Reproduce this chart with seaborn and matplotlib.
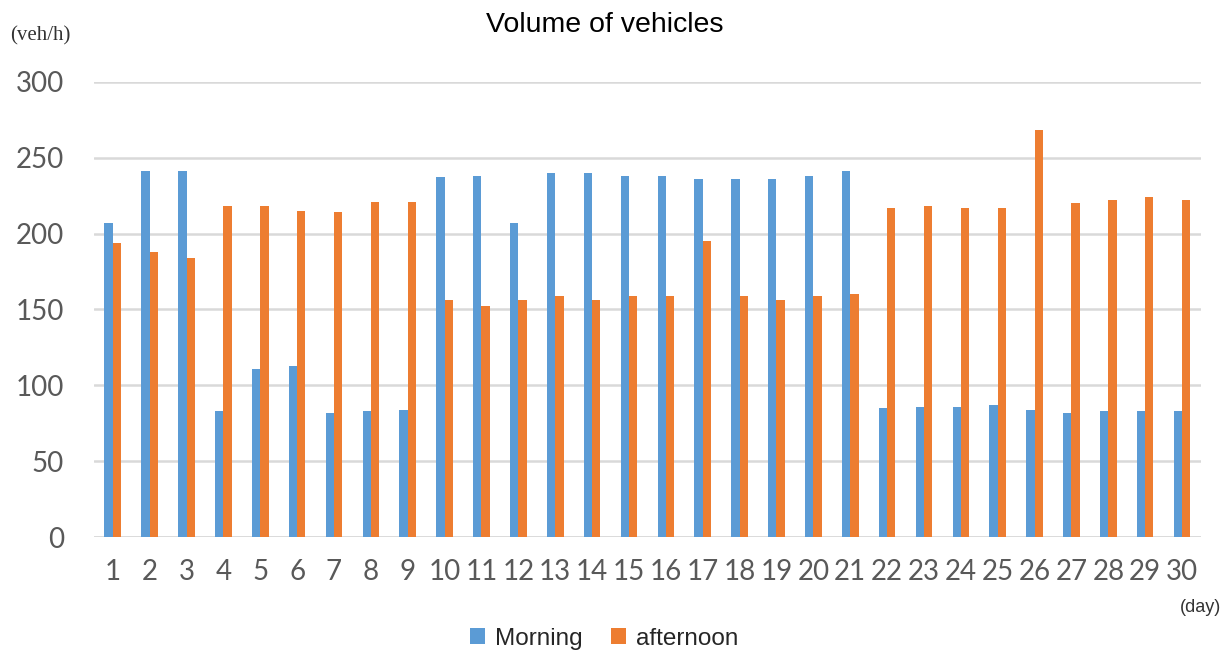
import matplotlib
matplotlib.use("Agg")
import matplotlib.pyplot as plt
import pandas as pd
import seaborn as sns

# datos
dias = list(range(1, 31))
manana = [207, 241, 241, 83, 111, 113, 82, 83, 84, 237,
          238, 207, 240, 240, 238, 238, 236, 236, 236, 238,
          241, 85, 86, 86, 87, 84, 82, 83, 83, 83]
tarde = [194, 188, 184, 218, 218, 215, 214, 221, 221, 156,
         152, 156, 159, 156, 159, 159, 195, 159, 156, 159,
         160, 217, 218, 217, 217, 268, 220, 222, 224, 222]
series = ["Morning", "afternoon"]
colores = ["#5B9BD5", "#ED7D31"]

df = pd.DataFrame({
    "day": [str(d) for d in dias] * 2,
    "value": manana + tarde,
    "serie": [series[0]] * len(dias) + [series[1]] * len(dias),
})

sns.set_style("white")
plt.rcParams["font.family"] = ["Liberation Sans", "DejaVu Sans"]
fig = plt.figure(figsize=(12.25, 6.55), dpi=100)
ax = fig.add_axes([0.077, 0.18, 0.903, 0.695])

sns.barplot(data=df, x="day", y="value", hue="serie", palette=colores,
            width=0.45, gap=0.0, ax=ax, saturation=1, edgecolor="none")

ax.set_ylim(0, 300)
ax.set_xlim(-0.5, 29.5)
ax.set_yticks(range(0, 301, 50))
ax.yaxis.grid(True, color="#D9D9D9", linewidth=1.8)
ax.set_axisbelow(True)
for s in ax.spines.values():
    s.set_visible(False)
ax.axhline(0, color="#D9D9D9", linewidth=1.8, zorder=0)
ax.tick_params(axis="both", length=0, labelsize=20, labelcolor="#595959")
ax.tick_params(axis="x", pad=16)
ax.tick_params(axis="y", pad=22)
for lab in ax.get_xticklabels() + ax.get_yticklabels():
    lab.set_family("Lato")
ax.set_xlabel("")
ax.set_ylabel("")

fig.text(0.494, 0.962, "Volume of vehicles", ha="center", va="center",
         fontsize=20.5, color="black")
fig.text(0.008, 0.946, "(veh/h)", ha="left", va="center",
         fontsize=15, family="Liberation Serif", color="#333333")
fig.text(0.997, 0.072, "(day)", ha="right", va="center",
         fontsize=13, color="#333333")

ax.legend(loc="center", bbox_to_anchor=(0.461, -0.223), ncol=2,
          frameon=False, fontsize=17.5, handlelength=0.6, handleheight=0.6,
          columnspacing=1.2, handletextpad=0.4)

fig.savefig("out.png", dpi=100)
